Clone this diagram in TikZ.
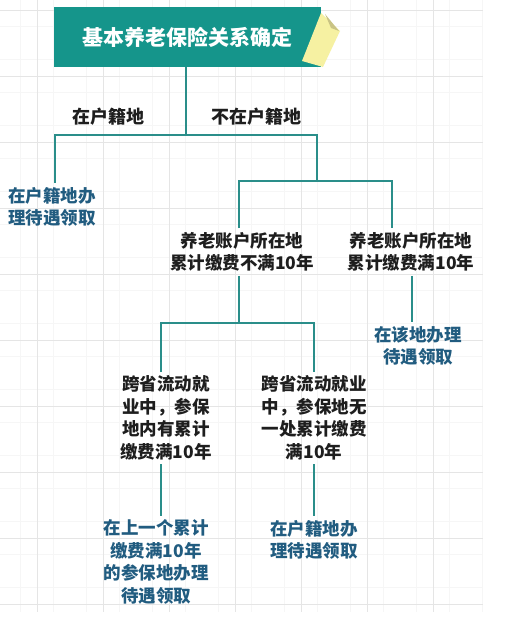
\documentclass[tikz,border=0pt]{standalone}
\usepackage{fontspec}
\setmainfont{Noto Sans CJK SC}
\usepackage{tikz}
\usetikzlibrary{positioning,calc}

\definecolor{titlegreen}{HTML}{15958B}
\definecolor{linkgreen}{HTML}{2A8E8A}
\definecolor{leafblue}{HTML}{215C80}
\definecolor{textblack}{HTML}{1E1E1E}
\definecolor{noteyellow}{HTML}{F6F1A2}
\definecolor{notefold}{HTML}{C9C384}

\tikzset{
	link/.style={draw=linkgreen, line width=2.6pt},
	cond/.style={align=center, text=textblack, font=\bfseries\fontsize{17.5}{22.5}\selectfont, inner sep=4pt},
	leaf/.style={align=center, text=leafblue, font=\bfseries\fontsize{17.5}{22.5}\selectfont, inner sep=4pt},
	branch/.style={text=textblack, font=\bfseries\fontsize{18}{20}\selectfont}
}

\begin{document}
\begin{tikzpicture}[x=1pt,y=-1pt]
			\useasboundingbox[fill=white] (0,0) rectangle (513,626);
			% grid
			\foreach \x in {20,53,...,483} \draw[gray!7,line width=0.6pt] (\x,0) -- (\x,612);
			\foreach \y in {26,59,...,612} \draw[gray!7,line width=0.6pt] (0,\y) -- (483,\y);
			\foreach \x in {37,103,...,483} \draw[gray!20,line width=0.8pt] (\x,0) -- (\x,612);
			\foreach \y in {10,76,...,612} \draw[gray!20,line width=0.8pt] (0,\y) -- (483,\y);

			\node [rectangle, fill=titlegreen, minimum width=267pt, minimum height=60pt, text=white, font=\bfseries\fontsize{21}{24}\selectfont] (title) at (187,37) {基本养老保险关系确定};
			% sticky note
			\fill[noteyellow] (302,61) -- (321,13) -- (340,31) -- (323,67) -- cycle;
			\fill[notefold] (325,14) -- (339,31) -- (331,28) -- cycle;

			\node [branch] (inhome) at (108,117) {在户籍地};
			\node [branch] (outhome) at (256,117) {不在户籍地};

			\node [leaf] (leafhome) at (52,207) {在户籍地办\\理待遇领取};
			\node [cond] (accless) at (242,252) {养老账户所在地\\累计缴费不满10年};
			\node [cond] (accfull) at (411,252) {养老账户所在地\\累计缴费满10年};
			\node [leaf] (leaflocal) at (418,346) {在该地办理\\待遇领取};
			\node [cond] (crosshas) at (166,418) {跨省流动就\\业中，参保\\地内有累计\\缴费满10年};
			\node [cond] (crossnone) at (314,418) {跨省流动就业\\中，参保地无\\一处累计缴费\\满10年};
			\node [leaf] (leaflast) at (156,562) {在上一个累计\\缴费满10年\\的参保地办理\\待遇领取};
			\node [leaf] (leafhome2) at (314,540) {在户籍地办\\理待遇领取};

			\coordinate (barone) at (186,135);
			\coordinate (bartwo) at (317,181);
			\coordinate (barthree) at (239,323);

			\draw[link] (title.south -| barone) -- (barone);
			\draw[link] (55,135 |- leafhome.north) -- (55,135) -- (317,135) -- (bartwo);
			\draw[link] (accless.north -| barthree) -- (barthree |- bartwo) -- (392,181) -- (392,181 |- accfull.north);
			\draw[link] (accless.south -| barthree) -- (barthree);
			\draw[link] (161,323 |- crosshas.north) -- (161,323) -- (314,323) -- (crossnone.north);
			\draw[link] (accfull.south -| 412,0) -- (412,0 |- leaflocal.north);
			\draw[link] (crosshas.south -| 161,0) -- (161,0 |- leaflast.north);
			\draw[link] (crossnone.south) -- (leafhome2.north);
\end{tikzpicture}
\end{document}
